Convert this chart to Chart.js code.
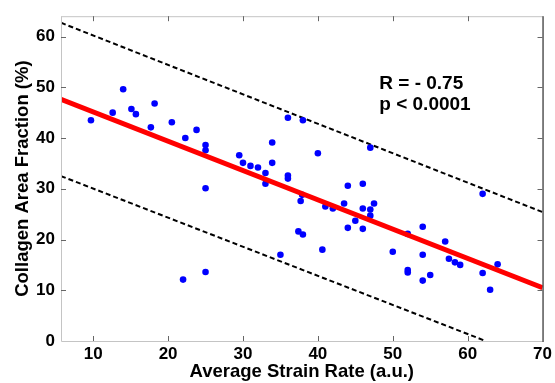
<!DOCTYPE html>
<html>
<head>
<meta charset="utf-8">
<script src="https://cdn.jsdelivr.net/npm/chart.js@4.4.1/dist/chart.umd.min.js"></script>
<style>
  html, body { margin: 0; padding: 0; background: #fff; }
  #wrap { width: 555px; height: 383px; }
</style>
</head>
<body>
<div id="wrap"><canvas id="scatterChart" width="555" height="383"></canvas></div>
<script>
// each sample: average strain rate (a.u.) vs collagen area fraction (%)
var strainRate = [9.7, 12.6, 14.0, 15.1, 15.7, 17.7, 18.2, 20.5, 22.3, 23.8,
  25.0, 25.0, 25.0, 25.0, 22.0, 29.5, 30.0, 31.0, 32.0, 33.0,
  33.0, 33.9, 33.9, 36.0, 38.0, 36.0, 36.0, 40.0, 47.0, 37.7,
  37.9, 41.0, 42.0, 43.5, 44.0, 46.0, 46.0, 47.0, 47.5, 45.0,
  47.0, 44.0, 46.0, 37.4, 38.0, 40.6, 35.0, 50.0, 62.0, 54.0,
  52.0, 57.0, 54.0, 57.5, 58.3, 59.0, 64.0, 52.0, 52.0, 55.0,
  54.0, 62.0, 63.0];
var collagen = [43.5, 45.0, 49.6, 45.7, 44.7, 42.1, 46.8, 43.1, 40.0, 41.6,
  38.6, 37.6, 30.1, 13.6, 12.1, 36.6, 35.1, 34.5, 34.2, 33.1,
  31.0, 39.1, 35.1, 44.0, 43.5, 32.6, 32.0, 37.0, 38.1, 27.6,
  28.8, 26.5, 26.1, 27.1, 30.6, 31.0, 26.1, 25.9, 27.1, 23.7,
  24.7, 22.3, 22.1, 21.6, 21.0, 18.0, 17.0, 17.6, 29.0, 22.5,
  21.1, 19.6, 17.0, 16.2, 15.5, 15.0, 15.1, 14.0, 13.5, 13.0,
  11.9, 13.4, 10.1];

// regression line and prediction bounds, end points
var fitX = [5.7, 70];
var fitY = [47.6, 10.5];
var upperX = [5.7, 70];
var upperY = [62.7, 25.4];
var lowerX = [5.7, 62.4];
var lowerY = [32.5, 0];

var xTicks = [10, 20, 30, 40, 50, 60, 70];
var yTicks = [0, 10, 20, 30, 40, 50, 60];
var statsText = ['R = - 0.75', 'p < 0.0001'];
var statsX = 48.2;
var statsY = [49.7, 45.6];

function toPoints(xs, ys) {
  return xs.map(function (x, i) { return { x: x, y: ys[i] }; });
}

var FONT = 'Liberation Sans, Arial, Helvetica, sans-serif';

// box around the plot plus little inward ticks, MATLAB style
var framePlugin = {
  id: 'frame',
  afterDatasetsDraw: function (chart) {
    var ctx = chart.ctx;
    var a = chart.chartArea;
    var xs = chart.scales.x, ys = chart.scales.y;
    ctx.save();
    ctx.lineWidth = 1;
    ctx.strokeStyle = '#c4c4c4';
    ctx.beginPath();
    ctx.moveTo(a.left + 0.5, a.top + 0.5);
    ctx.lineTo(a.left + 0.5, a.bottom + 0.5);
    ctx.lineTo(a.right, a.bottom + 0.5);
    ctx.moveTo(a.left, a.top + 0.5);
    ctx.lineTo(a.right, a.top + 0.5);
    ctx.stroke();
    ctx.strokeStyle = '#000';
    ctx.beginPath();
    ctx.moveTo(a.right + 0.5, a.top);
    ctx.lineTo(a.right + 0.5, a.bottom + 1);
    ctx.stroke();

    ctx.strokeStyle = '#666';
    ctx.beginPath();
    xTicks.forEach(function (v) {
      var px = Math.round(xs.getPixelForValue(v)) + 0.5;
      if (px > a.right - 2) return;
      ctx.moveTo(px, a.bottom);
      ctx.lineTo(px, a.bottom - 5);
      ctx.moveTo(px, a.top);
      ctx.lineTo(px, a.top + 5);
    });
    yTicks.forEach(function (v) {
      var py = Math.round(ys.getPixelForValue(v)) + 0.5;
      if (py > a.bottom - 2) return;
      ctx.moveTo(a.left, py);
      ctx.lineTo(a.left + 5, py);
      ctx.moveTo(a.right, py);
      ctx.lineTo(a.right - 5, py);
    });
    ctx.stroke();

    ctx.fillStyle = '#000';
    ctx.font = 'bold 19px ' + FONT;
    ctx.textAlign = 'left';
    ctx.textBaseline = 'alphabetic';
    statsText.forEach(function (t, i) {
      ctx.fillText(t, xs.getPixelForValue(statsX), ys.getPixelForValue(statsY[i]));
    });
    ctx.restore();
  }
};

var ctx = document.getElementById('scatterChart').getContext('2d');

new Chart(ctx, {
  type: 'scatter',
  data: {
    datasets: [{
      label: 'fit',
      data: toPoints(fitX, fitY),
      showLine: true,
      borderColor: '#ff0000',
      borderWidth: 5,
      pointRadius: 0
    }, {
      label: 'samples',
      data: toPoints(strainRate, collagen),
      backgroundColor: '#0000ff',
      borderWidth: 0,
      pointRadius: 3.3
    }, {
      label: 'upper',
      data: toPoints(upperX, upperY),
      showLine: true,
      borderColor: '#000',
      borderWidth: 2,
      borderDash: [5, 3],
      pointRadius: 0
    }, {
      label: 'lower',
      data: toPoints(lowerX, lowerY),
      showLine: true,
      borderColor: '#000',
      borderWidth: 2,
      borderDash: [5, 3],
      pointRadius: 0
    }]
  },
  options: {
    responsive: false,
    animation: false,
    devicePixelRatio: 1,
    layout: { padding: { left: 0, right: 10, top: 9, bottom: 0 } },
    plugins: {
      legend: { display: false },
      tooltip: { enabled: false }
    },
    scales: {
      x: {
        type: 'linear',
        min: 5.7,
        max: 70,
        afterBuildTicks: function (scale) {
          scale.ticks = xTicks.map(function (v) { return { value: v }; });
        },
        afterFit: function (scale) { scale.height = 42; },
        grid: { display: false, drawTicks: false },
        border: { display: false },
        ticks: {
          color: '#000',
          padding: 3,
          maxRotation: 0,
          font: { family: FONT, size: 17, weight: 'bold' }
        },
        title: {
          display: true,
          text: 'Average Strain Rate (a.u.)',
          color: '#000',
          padding: { top: 0, bottom: 0 },
          font: { family: FONT, size: 18.5, weight: 'bold' }
        }
      },
      y: {
        type: 'linear',
        min: 0,
        max: 64,
        afterBuildTicks: function (scale) {
          scale.ticks = yTicks.map(function (v) { return { value: v }; });
        },
        afterFit: function (scale) { scale.width = 61; },
        grid: { display: false, drawTicks: false },
        border: { display: false },
        ticks: {
          color: '#000',
          padding: 6,
          font: { family: FONT, size: 17, weight: 'bold' }
        },
        title: {
          display: true,
          text: 'Collagen Area Fraction (%)',
          color: '#000',
          padding: { top: 12, bottom: 0 },
          font: { family: FONT, size: 18.5, weight: 'bold' }
        }
      }
    }
  },
  plugins: [framePlugin]
});
</script>
</body>
</html>
